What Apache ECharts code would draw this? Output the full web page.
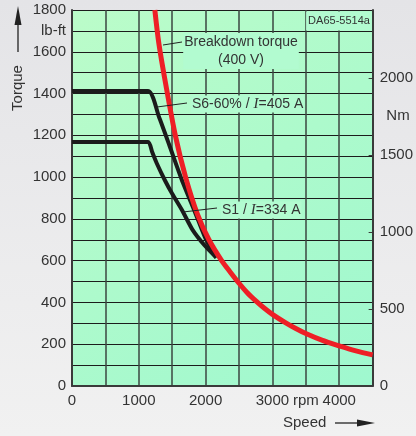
<!DOCTYPE html>
<html>
<head>
<meta charset="utf-8">
<script src="https://cdn.jsdelivr.net/npm/echarts@6/dist/echarts.min.js"></script>
<style>
  html, body { margin: 0; padding: 0; }
  #chart { width: 416px; height: 436px; }
</style>
</head>
<body>
<div id="chart"></div>
<script>
// breakdown torque (400 V), speed in rpm, torque in lb-ft
const breakdownSpeed = [1240, 1300, 1400, 1550, 1700, 1880, 2050, 2240, 2370, 2500, 2620, 2760, 2880, 3000, 3200, 3350, 3500, 3750, 4000, 4250, 4500];
const breakdownTorque = [1800, 1640, 1450, 1195, 1000, 820, 700, 600, 545, 492, 448, 405, 372, 343, 302, 275, 251, 218, 192, 168, 149];

// S6-60% / I=405 A
const s6Speed = [0, 1140, 1300, 1460, 1640, 1850, 2000, 2160];
const s6Torque = [1412, 1412, 1290, 1150, 990, 825, 705, 615];

// S1 / I=334 A
const s1Speed = [0, 1140, 1200, 1270, 1390, 1500, 1650, 1800, 1980, 2160];
const s1Torque = [1168, 1168, 1120, 1065, 985, 920, 840, 750, 675, 615];

const speedLabels = [0, 1000, 2000, 3000, 3500, 4000];
const lbftLabels = [0, 200, 400, 600, 800, 1000, 1200, 1400, 1600, 1700, 1800];
const nmLabels = [0, 500, 1000, 1500, 2000];
const LBFT_TO_NM = 1.35582;

function pairs(xs, ys) {
  return xs.map((x, i) => [x, ys[i]]);
}

const textColor = '#333333';
const font = "'Liberation Sans', Arial, sans-serif";
const boxGreen = '#b2fbd0';

let mychart = echarts.init(document.getElementById('chart'));
let option = {
  animation: false,
  backgroundColor: {
    type: 'linear', x: 0, y: 0, x2: 0, y2: 1,
    colorStops: [{ offset: 0, color: '#e4e4e7' }, { offset: 1, color: '#f1f1f1' }]
  },
  textStyle: { fontFamily: font },
  grid: {
    left: 72, top: 10, right: 42, bottom: 50,
    show: true,
    borderWidth: 0,
    backgroundColor: {
      type: 'linear', x: 0, y: 0, x2: 1, y2: 1,
      colorStops: [{ offset: 0, color: '#bbfcc9' }, { offset: 1, color: '#9ff8cf' }]
    }
  },
  xAxis: {
    type: 'value',
    min: 0, max: 4500, interval: 500,
    axisLine: { show: true, lineStyle: { color: '#3a3a3a', width: 2 } },
    axisTick: { show: false },
    splitLine: { show: true, lineStyle: { color: '#3b4640', width: 1.5 } },
    axisLabel: {
      customValues: speedLabels,
      formatter: v => (v === 3500 ? 'rpm' : String(v)),
      color: textColor, fontSize: 15, margin: 7, fontFamily: font
    }
  },
  yAxis: [{
    type: 'value',
    position: 'left',
    min: 0, max: 1800, interval: 100,
    axisLine: { show: true, lineStyle: { color: '#3a3a3a', width: 2 } },
    axisTick: { show: false },
    splitLine: { show: true, lineStyle: { color: '#1c1c1c', width: 1 } },
    axisLabel: {
      customValues: lbftLabels,
      formatter: v => (v === 1700 ? 'lb-ft' : String(v)),
      color: textColor, fontSize: 15, margin: 6, fontFamily: font
    }
  }, {
    type: 'value',
    position: 'right',
    min: 0, max: 1800 * LBFT_TO_NM,
    axisLine: { show: true, lineStyle: { color: '#3a3a3a', width: 2 } },
    axisTick: { show: true, inside: true, length: 4, customValues: nmLabels, lineStyle: { color: '#3a3a3a' } },
    splitLine: { show: false },
    axisLabel: {
      customValues: nmLabels,
      formatter: v => String(v),
      color: textColor, fontSize: 15, margin: 7, fontFamily: font
    }
  }],
  series: [{
    name: 'S1',
    type: 'line',
    data: pairs(s1Speed, s1Torque),
    smooth: 0.2,
    symbol: 'none',
    lineStyle: { color: '#1b1b1b', width: 4 },
    z: 3
  }, {
    name: 'S6-60%',
    type: 'line',
    data: pairs(s6Speed, s6Torque),
    smooth: 0.2,
    symbol: 'none',
    lineStyle: { color: '#1b1b1b', width: 4 },
    z: 3
  }, {
    name: 'Breakdown torque',
    type: 'line',
    data: pairs(breakdownSpeed, breakdownTorque),
    smooth: 0.3,
    symbol: 'none',
    clip: true,
    lineStyle: { color: '#ee1f26', width: 5 },
    z: 4
  }],
  graphic: [
    // Torque axis title with arrow
    { type: 'line', shape: { x1: 18, y1: 52, x2: 18, y2: 22 }, style: { stroke: '#222', lineWidth: 1.3 } },
    { type: 'polygon', shape: { points: [[18, 6], [14.5, 25], [21.5, 25]] }, style: { fill: '#222' } },
    { type: 'text', x: 18, y: 88, rotation: Math.PI / 2,
      style: { text: 'Torque', fill: textColor, font: '15px ' + font, align: 'center', verticalAlign: 'middle' } },
    // Speed axis title with arrow
    { type: 'text', x: 283, y: 423,
      style: { text: 'Speed', fill: textColor, font: '15px ' + font, align: 'left', verticalAlign: 'middle' } },
    { type: 'line', shape: { x1: 335, y1: 423, x2: 360, y2: 423 }, style: { stroke: '#222', lineWidth: 1.3 } },
    { type: 'polygon', shape: { points: [[375, 423], [357, 419.5], [357, 426.5]] }, style: { fill: '#222' } },
    // Nm unit on right axis
    { type: 'text', x: 398, y: 116,
      style: { text: 'Nm', fill: textColor, font: '15px ' + font, align: 'center', verticalAlign: 'middle' } },
    // drawing number
    { type: 'text', x: 339, y: 21, z: 10,
      style: { text: 'DA65-5514a', fill: textColor, font: '11px ' + font, align: 'center', verticalAlign: 'middle',
        backgroundColor: boxGreen, padding: [4, 2, 4, 2] } },
    // Breakdown torque label
    { type: 'line', shape: { x1: 163, y1: 45, x2: 182, y2: 42 }, z: 10, style: { stroke: '#222', lineWidth: 1 } },
    { type: 'text', x: 241, y: 51, z: 10,
      style: { text: 'Breakdown torque\n(400 V)', fill: textColor, font: '14px ' + font, lineHeight: 18,
        align: 'center', verticalAlign: 'middle', backgroundColor: boxGreen, padding: [0, 1, 0, 1] } },
    // S6 label
    { type: 'line', shape: { x1: 157, y1: 107, x2: 187, y2: 103 }, z: 10, style: { stroke: '#222', lineWidth: 1 } },
    { type: 'text', x: 191, y: 104, z: 10,
      style: { text: 'S6-60% / {i|I}=405 A', fill: textColor, font: '14px ' + font,
        align: 'left', verticalAlign: 'middle', backgroundColor: boxGreen, padding: [1, 1, 1, 1],
        rich: { i: { fontFamily: 'Liberation Serif', fontStyle: 'italic', fontSize: 15, fill: textColor } } } },
    // S1 label
    { type: 'line', shape: { x1: 183, y1: 212, x2: 217, y2: 208 }, z: 10, style: { stroke: '#222', lineWidth: 1 } },
    { type: 'text', x: 221, y: 210, z: 10,
      style: { text: 'S1 / {i|I}=334 A', fill: textColor, font: '14px ' + font,
        align: 'left', verticalAlign: 'middle', backgroundColor: boxGreen, padding: [1, 1, 1, 1],
        rich: { i: { fontFamily: 'Liberation Serif', fontStyle: 'italic', fontSize: 15, fill: textColor } } } }
  ]
};
mychart.setOption(option);
</script>
</body>
</html>
